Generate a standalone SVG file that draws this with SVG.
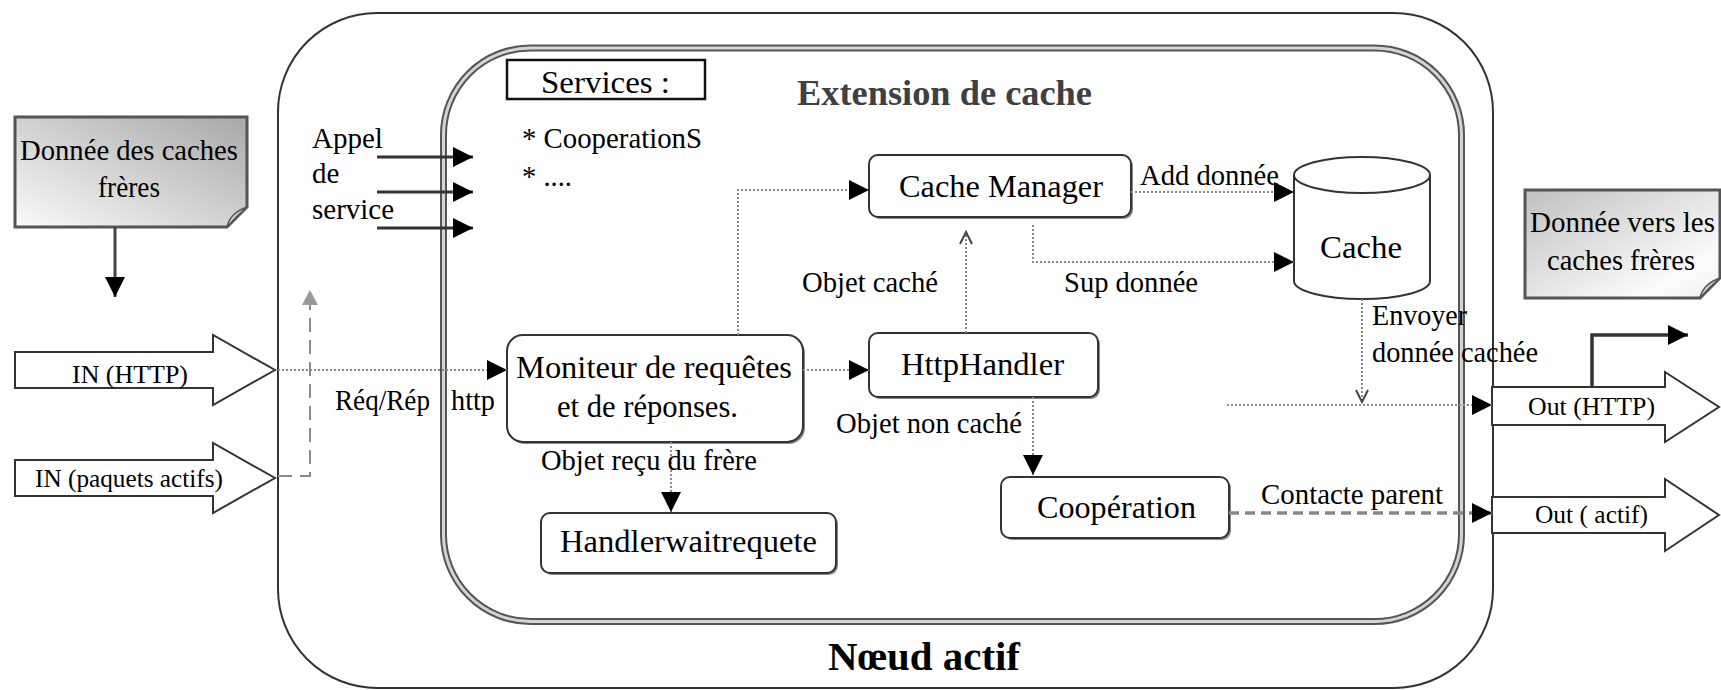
<svg xmlns="http://www.w3.org/2000/svg" width="1721" height="690" viewBox="0 0 1721 690">
<style>
text{font-family:"Liberation Serif","Times New Roman",serif;fill:#000}
.b{font-size:32px}
.l{font-size:28.5px}
.n{font-size:29px}
.a{font-size:26px}
.box{fill:#fff;stroke:#333;stroke-width:2}
.sh{fill:#888}
.dot{fill:none;stroke:#8a8a8a;stroke-width:2;stroke-dasharray:2 2}
.blk{fill:#fff;stroke:#333;stroke-width:2}
.solid{fill:none;stroke:#333;stroke-width:3.5}
</style>
<defs>
<marker id="ah" markerUnits="userSpaceOnUse" markerWidth="22" markerHeight="22" refX="20" refY="10" orient="auto" viewBox="0 0 22 22"><path d="M0,0 L20,10 L0,20 Z" fill="#000"/></marker>
<marker id="open" markerUnits="userSpaceOnUse" markerWidth="16" markerHeight="16" refX="13" refY="7" orient="auto" viewBox="0 0 16 16"><path d="M1,1 L13,7 L1,13" fill="none" stroke="#444" stroke-width="2"/></marker>
<marker id="gray" markerUnits="userSpaceOnUse" markerWidth="18" markerHeight="18" refX="15" refY="8" orient="auto" viewBox="0 0 18 18"><path d="M0,0 L15,8 L0,16 Z" fill="#999"/></marker>
<linearGradient id="gL" x1="1" y1="0" x2="0" y2="1"><stop offset="0" stop-color="#a8a8a8"/><stop offset="1" stop-color="#fafafa"/></linearGradient>
<linearGradient id="gR" x1="0" y1="0" x2="1" y2="1"><stop offset="0" stop-color="#c0c0c0"/><stop offset="0.8" stop-color="#fcfcfc"/><stop offset="1" stop-color="#f0f0f0"/></linearGradient>
</defs>

<g id="noeud-actif">
<rect x="278" y="13" width="1215" height="675" rx="99" fill="#fff" stroke="#333" stroke-width="2"/>
<text x="828" y="670" font-size="40" font-weight="bold" textLength="192" lengthAdjust="spacingAndGlyphs">Nœud actif</text>
</g>

<g id="extension-de-cache">
<rect x="443.5" y="48" width="1018" height="573.5" rx="87" fill="none" stroke="#555" stroke-width="7"/>
<rect x="443.5" y="48" width="1018" height="573.5" rx="87" fill="none" stroke="#d4d4d4" stroke-width="3"/>
<text x="797" y="105" font-size="35" font-weight="bold" style="fill:#404040" textLength="295" lengthAdjust="spacingAndGlyphs">Extension de cache</text>
</g>

<g id="services">
<rect x="507" y="60" width="198" height="39" fill="#fff" stroke="#111" stroke-width="2.5"/>
<text class="b" x="541" y="93" textLength="129" lengthAdjust="spacingAndGlyphs">Services :</text>
<text class="l" x="522" y="148" textLength="180" lengthAdjust="spacingAndGlyphs">* CooperationS</text>
<text class="l" x="522" y="186">* ....</text>
</g>

<g id="appel-de-service">
<text class="n" x="312" y="148">Appel</text>
<text class="n" x="312" y="183">de</text>
<text class="n" x="312" y="219">service</text>
</g>

<g id="donnee-des-caches-freres">
<path d="M15,117 H247 V207 L227,227 H15 Z" fill="url(#gL)" stroke="#555" stroke-width="3"/>
<path d="M227,227 Q230,213 247,207 Q236,216 227,227 Z" fill="#ddd" stroke="#555" stroke-width="1.5"/>
<text class="n" x="20" y="160" textLength="218" lengthAdjust="spacingAndGlyphs">Donnée des caches</text>
<text class="n" x="98" y="197" textLength="62" lengthAdjust="spacingAndGlyphs">frères</text>
</g>

<g id="donnee-vers-caches-freres">
<path d="M1525,190 H1720 V278 L1700,298 H1525 Z" fill="url(#gR)" stroke="#555" stroke-width="3"/>
<path d="M1700,298 Q1703,284 1720,278 Q1709,287 1700,298 Z" fill="#ddd" stroke="#555" stroke-width="1.5"/>
<text class="n" x="1530" y="232" textLength="185" lengthAdjust="spacingAndGlyphs">Donnée vers les</text>
<text class="n" x="1547" y="270" textLength="148" lengthAdjust="spacingAndGlyphs">caches frères</text>
</g>

<g id="in-http">
<polygon class="blk" points="15,352 213,352 213,335 275,370 213,405 213,388 15,388"/>
<text class="a" x="72" y="383" textLength="116" lengthAdjust="spacingAndGlyphs">IN (HTTP)</text>
</g>

<g id="in-paquets-actifs">
<polygon class="blk" points="15,460 213,460 213,443 275,478 213,513 213,496 15,496"/>
<text class="a" x="35" y="487" textLength="188" lengthAdjust="spacingAndGlyphs">IN (paquets actifs)</text>
</g>

<g id="out-http">
<polygon class="blk" points="1492,387 1665,387 1665,372 1719,407 1665,442 1665,425 1492,425"/>
<text class="a" x="1528" y="415" textLength="127" lengthAdjust="spacingAndGlyphs">Out (HTTP)</text>
</g>

<g id="out-actif">
<polygon class="blk" points="1492,497 1665,497 1665,479 1719,515 1665,551 1665,533 1492,533"/>
<text class="a" x="1535" y="523" textLength="113" lengthAdjust="spacingAndGlyphs">Out ( actif)</text>
</g>

<g id="cache-manager">
<rect class="sh" x="871" y="157" width="262" height="62" rx="9"/>
<rect class="box" x="869" y="155" width="262" height="62" rx="9"/>
<text class="b" x="899" y="197" textLength="204" lengthAdjust="spacingAndGlyphs">Cache Manager</text>
</g>

<g id="cache">
<path d="M1294,175 V281 A68,18 0 0 0 1430,281 V175" fill="#fff" stroke="#333" stroke-width="2"/>
<ellipse cx="1362" cy="175" rx="68" ry="18" fill="#fff" stroke="#333" stroke-width="2"/>
<text class="b" x="1320" y="258" textLength="82" lengthAdjust="spacingAndGlyphs">Cache</text>
</g>

<g id="moniteur">
<rect class="sh" x="509" y="337" width="296" height="107" rx="16"/>
<rect class="box" x="507" y="335" width="296" height="107" rx="16"/>
<text class="b" x="516" y="378" textLength="276" lengthAdjust="spacingAndGlyphs">Moniteur de requêtes</text>
<text class="b" x="557" y="417" textLength="181" lengthAdjust="spacingAndGlyphs">et de réponses.</text>
</g>

<g id="httphandler">
<rect class="sh" x="871" y="335" width="229" height="64" rx="9"/>
<rect class="box" x="869" y="333" width="229" height="64" rx="9"/>
<text class="b" x="901" y="375" textLength="163" lengthAdjust="spacingAndGlyphs">HttpHandler</text>
</g>

<g id="handlerwaitrequete">
<rect class="sh" x="543" y="515" width="295" height="60" rx="9"/>
<rect class="box" x="541" y="513" width="295" height="60" rx="9"/>
<text class="b" x="560" y="552" textLength="257" lengthAdjust="spacingAndGlyphs">Handlerwaitrequete</text>
</g>

<g id="cooperation">
<rect class="sh" x="1003" y="479" width="228" height="61" rx="9"/>
<rect class="box" x="1001" y="477" width="228" height="61" rx="9"/>
<text class="b" x="1037" y="518" textLength="159" lengthAdjust="spacingAndGlyphs">Coopération</text>
</g>

<g id="connectors">
<line x1="115" y1="227" x2="115" y2="297" stroke="#444" stroke-width="3" marker-end="url(#ah)"/>
<line x1="377" y1="157" x2="473" y2="157" stroke="#333" stroke-width="3" marker-end="url(#ah)"/>
<line x1="377" y1="192" x2="473" y2="192" stroke="#333" stroke-width="3" marker-end="url(#ah)"/>
<line x1="377" y1="228" x2="473" y2="228" stroke="#333" stroke-width="3" marker-end="url(#ah)"/>
<path d="M278,476 H310 V290" fill="none" stroke="#8a8a8a" stroke-width="2" stroke-dasharray="14 8" marker-end="url(#gray)"/>
<path class="dot" d="M278,370 H507" marker-end="url(#ah)"/>
<path class="dot" d="M738,335 V190 H869" marker-end="url(#ah)"/>
<path class="dot" d="M803,370 H869" marker-end="url(#ah)"/>
<path class="dot" d="M966,333 V232" marker-end="url(#open)"/>
<path class="dot" d="M1131,192 H1294" marker-end="url(#ah)"/>
<path class="dot" d="M1033,225 V262 H1294" marker-end="url(#ah)"/>
<path class="dot" d="M671,442 V512" marker-end="url(#ah)"/>
<path class="dot" d="M1033,397 V475" marker-end="url(#ah)"/>
<path class="dot" d="M1362,299 V402" marker-end="url(#open)"/>
<path class="dot" d="M1227,405 H1492" marker-end="url(#ah)"/>
<path d="M1229,513 H1492" fill="none" stroke="#888" stroke-width="3.5" stroke-dasharray="10 6" marker-end="url(#ah)"/>
<path class="solid" d="M1592,387 V335 H1688" marker-end="url(#ah)"/>
<text class="l" x="1140" y="185" textLength="139" lengthAdjust="spacingAndGlyphs">Add donnée</text>
<text class="l" x="1064" y="292" textLength="134" lengthAdjust="spacingAndGlyphs">Sup donnée</text>
<text class="l" x="802" y="292" textLength="136" lengthAdjust="spacingAndGlyphs">Objet caché</text>
<text class="l" x="335" y="410" textLength="95" lengthAdjust="spacingAndGlyphs">Réq/Rép</text>
<text class="l" x="451" y="410" textLength="44" lengthAdjust="spacingAndGlyphs">http</text>
<text class="l" x="541" y="470" textLength="216" lengthAdjust="spacingAndGlyphs">Objet reçu du frère</text>
<text class="l" x="836" y="433" textLength="186" lengthAdjust="spacingAndGlyphs">Objet non caché</text>
<text class="l" x="1261" y="504" textLength="182" lengthAdjust="spacingAndGlyphs">Contacte parent</text>
<text class="l" x="1372" y="325" textLength="95" lengthAdjust="spacingAndGlyphs">Envoyer</text>
<text class="l" x="1372" y="362" textLength="166" lengthAdjust="spacingAndGlyphs">donnée cachée</text>
</g>
</svg>
